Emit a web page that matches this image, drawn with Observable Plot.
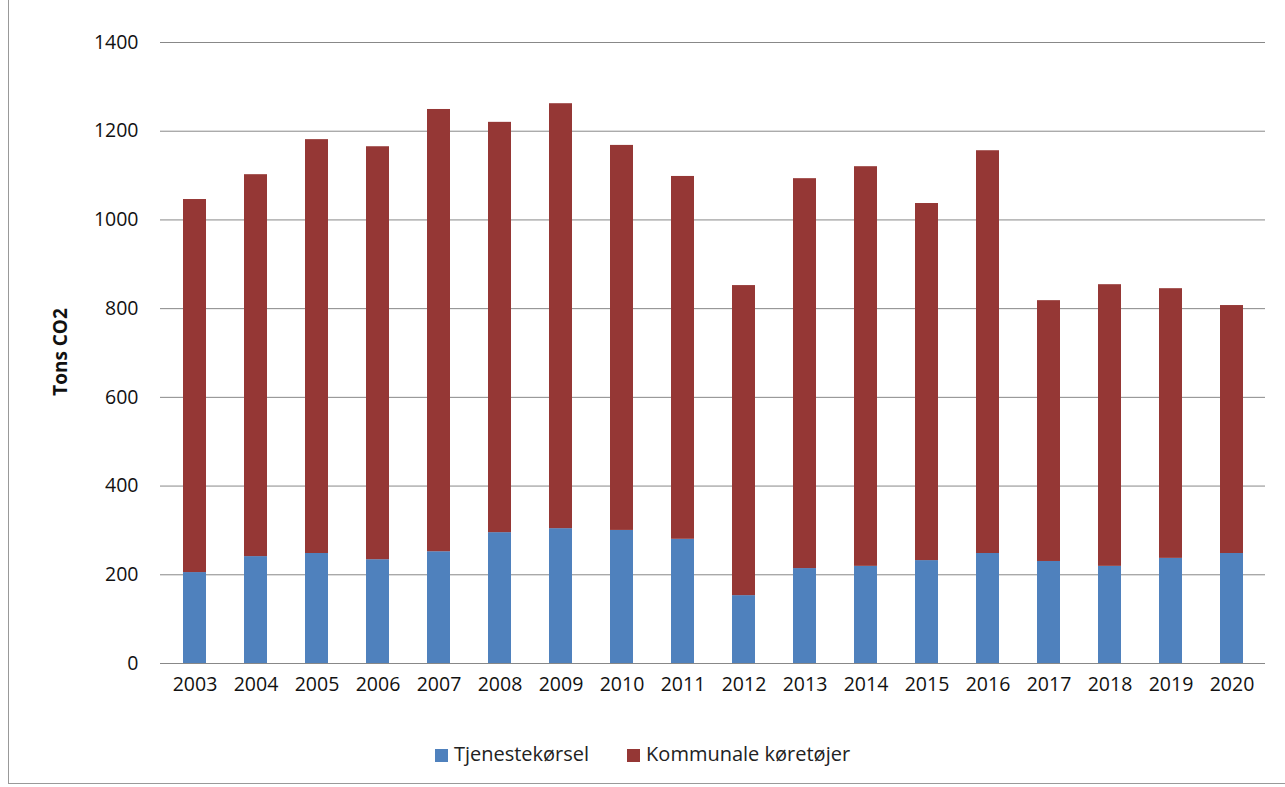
<!DOCTYPE html>
<html>
<head>
<meta charset="utf-8">
<script src="https://cdn.jsdelivr.net/npm/d3@7"></script>
<script src="https://cdn.jsdelivr.net/npm/@observablehq/plot@0.6"></script>
<style>
  body { margin: 0; background: #fff; font-family: "Open Sans", sans-serif; }
  #frame { position: absolute; left: 8px; top: -2px; width: 1290px; height: 786px; border: 1px solid #999; box-sizing: border-box; }
  #chart { position: absolute; left: 0; top: 0; }
  #ylabel { position: absolute; left: 60px; top: 352px; transform: translate(-50%, -50%) rotate(-90deg); font-weight: bold; font-size: 19px; color: #111; white-space: nowrap; }
  #legend { position: absolute; top: 740px; left: 0; width: 1285px; display: flex; justify-content: center; gap: 38px; font-size: 20px; color: #222; }
  #legend span.sw { display: inline-block; width: 13px; height: 13px; margin-right: 6px; vertical-align: -1px; }
</style>
</head>
<body>
<div id="frame"></div>
<div id="chart"></div>
<div id="ylabel">Tons CO2</div>
<div id="legend">
  <div><span class="sw" style="background:#4f81bd"></span>Tjenestekørsel</div>
  <div><span class="sw" style="background:#953735"></span>Kommunale køretøjer</div>
</div>
<script>
const years = [2003, 2004, 2005, 2006, 2007, 2008, 2009, 2010, 2011, 2012, 2013, 2014, 2015, 2016, 2017, 2018, 2019, 2020];
const tjeneste = [205, 241, 248, 234, 252, 295, 304, 300, 280, 153, 214, 219, 232, 248, 230, 219, 237, 248];
const total = [1046, 1102, 1181, 1165, 1249, 1220, 1262, 1168, 1098, 852, 1093, 1120, 1037, 1156, 818, 854, 845, 807];
const seriesNames = ['Tjenestekørsel', 'Kommunale køretøjer'];
const colors = ['#4f81bd', '#953735'];

const data = [];
years.forEach((y, i) => {
  data.push({year: String(y), serie: seriesNames[0], value: tjeneste[i]});
  data.push({year: String(y), serie: seriesNames[1], value: total[i] - tjeneste[i]});
});

const chart = Plot.plot({
  width: 1285,
  height: 720,
  marginTop: 42,
  marginBottom: 57,
  marginLeft: 160,
  marginRight: 20,
  style: {fontFamily: '"Open Sans", sans-serif', fontSize: '19.5px', color: '#111'},
  x: {domain: years.map(String), paddingInner: 0.63, paddingOuter: 0.33, label: null, tickSize: 0, tickPadding: 14},
  y: {domain: [0, 1400], ticks: d3.range(0, 1401, 200), tickFormat: 'd', label: null, tickSize: 0, tickPadding: 22},
  color: {domain: seriesNames, range: colors},
  marks: [
    Plot.ruleY(d3.range(0, 1401, 200), {stroke: '#888', strokeWidth: 1}),
    Plot.barY(data, {x: 'year', y: 'value', fill: 'serie', order: seriesNames})
  ]
});
document.getElementById('chart').append(chart);
</script>
</body>
</html>
